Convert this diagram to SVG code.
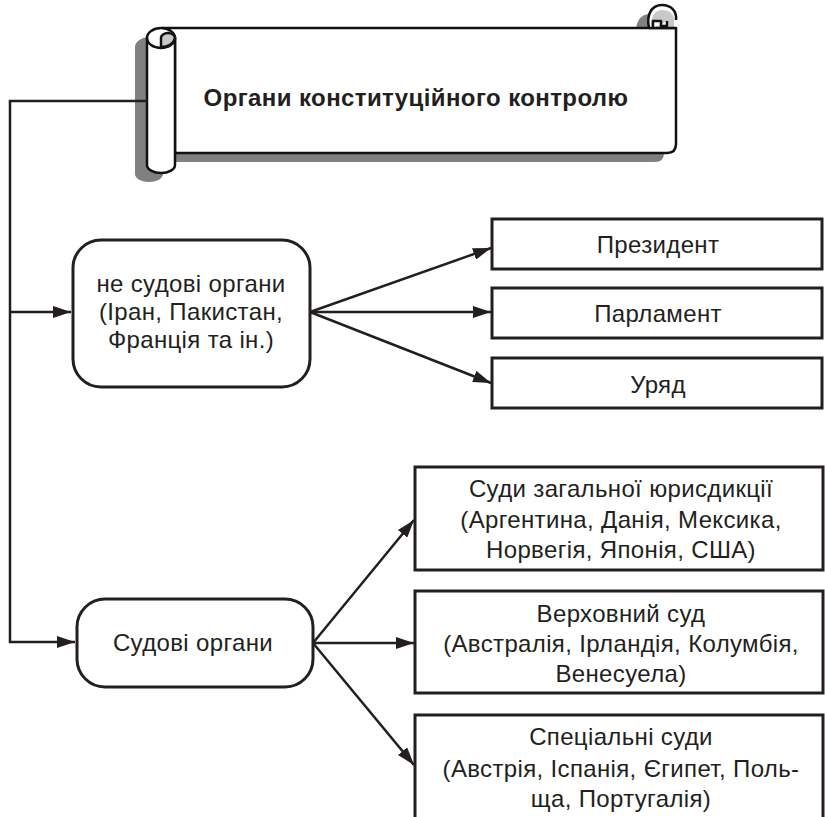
<svg xmlns="http://www.w3.org/2000/svg" width="825" height="817" viewBox="0 0 825 817">
<style>
.box{fill:#fff;stroke:#231f20;stroke-width:3}
.t{font-family:"Liberation Sans",Arial,sans-serif;font-size:24px;letter-spacing:0.35px;fill:#231f20;text-anchor:middle}
.tb{font-family:"Liberation Sans",Arial,sans-serif;font-size:24px;letter-spacing:0.4px;font-weight:bold;fill:#231f20;text-anchor:middle}
.c{fill:none;stroke:#231f20;stroke-width:2.5}
.sc{stroke:#111;stroke-width:2.5;stroke-linejoin:round}
</style>
<defs>
<marker id="ah" markerUnits="userSpaceOnUse" markerWidth="20" markerHeight="12" refX="18" refY="6" orient="auto">
<path d="M0,0 L18,6 L0,12 z" fill="#231f20"/>
</marker>
<path id="sil" d="M147,38 A15,10 0 0 1 162,28 L649,28 C646,14 652,5 662,5 C671,5 677,11 676,20 L676,144 Q676,153 667,153 L175,153 L175,165 A14,8 0 0 1 147,165 Z"/>
</defs>
<rect width="825" height="817" fill="#fff"/>
<g id="title">
<use href="#sil" transform="translate(-12,9)" fill="#808080"/>
<path class="sc" fill="#fff" d="M162,28 L676,28 L676,144 Q676,153 667,153 L175,153 L175,38 Z"/>
<path fill="#fff" d="M649,28 C646,14 652,5 662,5 C671,5 677,11 676,20 L676,28 Z"/>
<path fill="#c8c8c8" d="M651,27 C650,17 655,10 662,10 C669,10 674,14 674,20 L674,27 Z"/>
<path class="sc" fill="#fff" d="M653,28 L653,21 L661,21 L661,26 L667,26 L667,21"/>
<path class="sc" fill="none" d="M649,28 C646,14 652,5 662,5 C671,5 677,11 676,20"/>
<path class="sc" fill="none" d="M649,28 L676,28"/>
<path class="sc" fill="#fff" d="M147,38 A14,10 0 0 1 175,38 L175,165 A14,8 0 0 1 147,165 Z"/>
<path class="sc" fill="#c8c8c8" d="M161,47 L161,38 A7,5 0 0 1 175,38 A14,10 0 0 1 161,47 Z"/>
<path class="sc" fill="none" d="M147,38 A14,10 0 0 0 175,38"/>
<text class="tb" x="416" y="106">Органи конституційного контролю</text>
</g>
<g id="connectors">
<path class="c" d="M147,101 H10 V642 H75" marker-end="url(#ah)"/>
<path class="c" d="M10,312 H71" marker-end="url(#ah)"/>
<path class="c" d="M310,312 L491,248" marker-end="url(#ah)"/>
<path class="c" d="M310,312 L491,312" marker-end="url(#ah)"/>
<path class="c" d="M310,312 L491,383" marker-end="url(#ah)"/>
<path class="c" d="M313,643 L414,520" marker-end="url(#ah)"/>
<path class="c" d="M313,643 L414,643" marker-end="url(#ah)"/>
<path class="c" d="M313,643 L414,765" marker-end="url(#ah)"/>
</g>
<g id="nonjudicial">
<rect class="box" x="73" y="240" width="237" height="147" rx="28"/>
<text class="t" x="191" y="292">не судові органи</text>
<text class="t" x="191" y="320">(Іран, Пакистан,</text>
<text class="t" x="191" y="348">Франція та ін.)</text>
</g>
<g id="president">
<rect class="box" x="492" y="219" width="330" height="50"/>
<text class="t" x="658" y="253">Президент</text>
</g>
<g id="parliament">
<rect class="box" x="492" y="288" width="330" height="50"/>
<text class="t" x="658" y="322">Парламент</text>
</g>
<g id="government">
<rect class="box" x="492" y="358" width="330" height="50"/>
<text class="t" x="658" y="393">Уряд</text>
</g>
<g id="judicial">
<rect class="box" x="77" y="599" width="236" height="88" rx="28"/>
<text class="t" x="193" y="651">Судові органи</text>
</g>
<g id="general">
<rect class="box" x="415" y="467" width="408" height="103"/>
<text class="t" x="621" y="497">Суди загальної юрисдикції</text>
<text class="t" x="621" y="528">(Аргентина, Данія, Мексика,</text>
<text class="t" x="621" y="558">Норвегія, Японія, США)</text>
</g>
<g id="supreme">
<rect class="box" x="415" y="591" width="408" height="102"/>
<text class="t" x="621" y="622">Верховний суд</text>
<text class="t" x="621" y="652">(Австралія, Ірландія, Колумбія,</text>
<text class="t" x="621" y="682">Венесуела)</text>
</g>
<g id="special">
<rect class="box" x="415" y="715" width="408" height="130"/>
<text class="t" x="621" y="745">Спеціальні суди</text>
<text class="t" x="621" y="777">(Австрія, Іспанія, Єгипет, Поль-</text>
<text class="t" x="621" y="807">ща, Португалія)</text>
</g>
</svg>
